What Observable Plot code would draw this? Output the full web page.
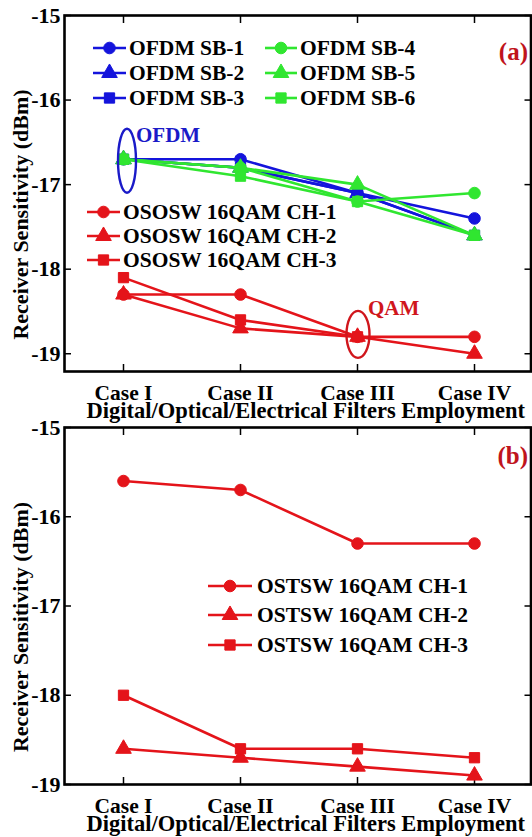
<!DOCTYPE html>
<html><head><meta charset="utf-8">
<script src="https://cdn.jsdelivr.net/npm/d3@7"></script>
<script src="https://cdn.jsdelivr.net/npm/@observablehq/plot@0.6"></script>
<style>
body{margin:0;background:#fff}
#chart svg{display:block;overflow:visible}
</style>
</head><body><div id="chart"></div>
<script>
// ---------- data ----------
const cases = ["Case I", "Case II", "Case III", "Case IV"];
const yTicks = [-15, -16, -17, -18, -19];
const xTitle = "Digital/Optical/Electrical Filters Employment";
const yTitle = "Receiver Sensitivity (dBm)";

const ofdmNames = ["OFDM SB-1", "OFDM SB-2", "OFDM SB-3", "OFDM SB-4", "OFDM SB-5", "OFDM SB-6"];
const ofdmSB1 = [-16.7, -16.7, -17.1, -17.4];
const ofdmSB2 = [-16.7, -16.8, -17.1, -17.6];
const ofdmSB3 = [-16.7, -16.8, -17.1, -17.6];
const ofdmSB4 = [-16.7, -16.8, -17.2, -17.1];
const ofdmSB5 = [-16.7, -16.8, -17.0, -17.6];
const ofdmSB6 = [-16.7, -16.9, -17.2, -17.6];

const ososwNames = ["OSOSW 16QAM CH-1", "OSOSW 16QAM CH-2", "OSOSW 16QAM CH-3"];
const ososwCH1 = [-18.3, -18.3, -18.8, -18.8];
const ososwCH2 = [-18.3, -18.7, -18.8, -19.0];
const ososwCH3 = [-18.1, -18.6, -18.8, NaN];

const ostswNames = ["OSTSW 16QAM CH-1", "OSTSW 16QAM CH-2", "OSTSW 16QAM CH-3"];
const ostswCH1 = [-15.6, -15.7, -16.3, -16.3];
const ostswCH2 = [-18.6, -18.7, -18.8, -18.9];
const ostswCH3 = [-18.0, -18.6, -18.6, -18.7];

// ---------- styles ----------
const BLUE = "#1414dc", GREEN = "#30e630", RED = "#e4141a", DARKRED = "#c0141c";
const FONT = "'Liberation Serif', 'Times New Roman', serif";
const FS = 21.5;
const symbols = ["circle", "triangle", "square"];
const R = 5.8;

function series(names, arrays, colors) {
  return names.map((name, i) => ({
    name, color: colors[i], symbol: symbols[i % 3],
    rows: cases.map((c, j) => ({series: name, case: c, value: arrays[i][j]}))
  }));
}

const panelA = {
  height: 420, marginTop: 15, marginBottom: 49, yDomain: [-19.21, -15], tag: "(a)", tagDy: 27,
  groups: [
    ...series(ofdmNames.slice(0, 3), [ofdmSB1, ofdmSB2, ofdmSB3], [BLUE, BLUE, BLUE]),
    ...series(ofdmNames.slice(3), [ofdmSB4, ofdmSB5, ofdmSB6], [GREEN, GREEN, GREEN]),
    ...series(ososwNames, [ososwCH1, ososwCH2, ososwCH3], [RED, RED, RED])
  ]
};
const panelB = {
  height: 417, marginTop: 7, marginBottom: 53, yDomain: [-19, -15], tag: "(b)", tagDy: 19,
  groups: series(ostswNames, [ostswCH1, ostswCH2, ostswCH3], [RED, RED, RED])
};

function makePanel(p) {
  const marks = [
    Plot.axisY(yTicks, {anchor: "left", tickSize: 0, tickPadding: 4, label: null, tickFormat: d => String(d), fontSize: 22}),
    Plot.axisY(yTicks, {anchor: "left", tickSize: -7, tickFormat: () => "", label: null, strokeWidth: 1.5}),
    Plot.axisY(yTicks, {anchor: "right", tickSize: -7, tickFormat: () => "", label: null, strokeWidth: 1.5}),
    Plot.axisX({anchor: "bottom", tickSize: 0, tickPadding: 13, label: null, fontSize: FS}),
    Plot.axisX({anchor: "bottom", tickSize: -7, tickFormat: () => "", label: null, strokeWidth: 1.5}),
    Plot.axisX({anchor: "top", tickSize: -7, tickFormat: () => "", label: null, strokeWidth: 1.5})
  ];
  for (const g of p.groups) {
    marks.push(Plot.line(g.rows, {x: "case", y: "value", stroke: g.color, strokeWidth: 2.6}));
    marks.push(Plot.dot(g.rows, {x: "case", y: "value", symbol: g.symbol, r: R, fill: g.color, stroke: g.color, strokeWidth: 1}));
  }
  marks.push(
    Plot.frame({stroke: "black", strokeWidth: 2.6}),
    Plot.text([p.tag], {frameAnchor: "top-right", dx: -3, dy: p.tagDy, textAnchor: "end", fill: DARKRED, fontSize: 25}),
    Plot.text([xTitle], {frameAnchor: "bottom", dx: 8, dy: 46, textAnchor: "middle", fontSize: 22.5}),
    Plot.text([yTitle], {frameAnchor: "left", dx: -44, dy: 21, rotate: -90, textAnchor: "middle", fontSize: 22})
  );
  return Plot.plot({
    width: 532, height: p.height,
    marginTop: p.marginTop, marginBottom: p.marginBottom, marginLeft: 64, marginRight: 1.5,
    style: {fontFamily: FONT, fontWeight: "bold", fontSize: FS + "px", color: "black", background: "transparent", overflow: "visible"},
    x: {type: "point", domain: cases, range: [64, 533], padding: 0.5},
    y: {domain: p.yDomain},
    marks
  });
}

function addLegend(svg, items, cfg) {
  const g = d3.select(svg).append("g")
    .attr("font-family", FONT).attr("font-weight", "bold").attr("font-size", FS)
    .attr("text-anchor", "start");
  items.forEach((it, i) => {
    const y = cfg.rows[i];
    g.append("line").attr("x1", cfg.x1).attr("x2", cfg.x2).attr("y1", y).attr("y2", y)
      .attr("stroke", it.color).attr("stroke-width", 2.6);
    const sym = {circle: d3.symbolCircle, triangle: d3.symbolTriangle, square: d3.symbolSquare}[it.symbol];
    g.append("path").attr("d", d3.symbol(sym, R * R * Math.PI)())
      .attr("transform", `translate(${(cfg.x1 + cfg.x2) / 2},${y})`)
      .attr("fill", it.color).attr("stroke", it.color);
    g.append("text").attr("x", cfg.tx).attr("y", y + 7.2).attr("fill", "black")
      .attr("text-anchor", "start").text(it.name);
  });
}

function addEllipse(svg, plot, c, v, o) {
  const cx = plot.scale("x").apply(c) + o.dx, cy = plot.scale("y").apply(v) + o.dy;
  const s = d3.select(svg);
  s.append("ellipse").attr("cx", cx).attr("cy", cy).attr("rx", o.rx).attr("ry", o.ry)
    .attr("fill", "none").attr("stroke", o.color).attr("stroke-width", 2.4);
  s.append("text").attr("x", cx + o.tx).attr("y", cy + o.ty).attr("fill", o.color)
    .attr("text-anchor", "start")
    .attr("font-family", FONT).attr("font-weight", "bold").attr("font-size", 21).text(o.label);
}

const chart = document.getElementById("chart");
const a = makePanel(panelA);
chart.appendChild(a);
addLegend(a, panelA.groups.slice(0, 3), {x1: 93, x2: 126, tx: 129, rows: [48, 73, 98]});
addLegend(a, panelA.groups.slice(3, 6), {x1: 265, x2: 297, tx: 300, rows: [48, 73, 98]});
addLegend(a, panelA.groups.slice(6, 9), {x1: 87, x2: 120, tx: 123, rows: [212, 236, 260]});
addEllipse(a, a, "Case I", ofdmSB1[0], {dx: 4, dy: 2, rx: 9, ry: 32, color: "#1a1ac8", label: "OFDM", tx: 9, ty: -19});
addEllipse(a, a, "Case III", ososwCH1[2], {dx: 1, dy: -2, rx: 11.5, ry: 23.5, color: "#d0161c", label: "QAM", tx: 10, ty: -19});

const b = makePanel(panelB);
chart.appendChild(b);
addLegend(b, panelB.groups, {x1: 208, x2: 252, tx: 257, rows: [166, 195, 225]});
</script>
</body></html>
